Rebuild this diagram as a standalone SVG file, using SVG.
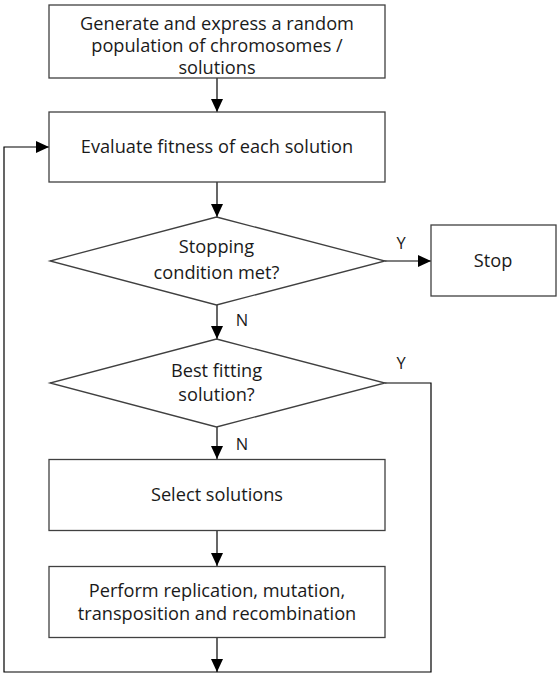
<svg xmlns="http://www.w3.org/2000/svg" width="557" height="675" viewBox="0 0 557 675">
<style>
.box{fill:#fff;stroke:#404040;stroke-width:1.3}
.con{fill:none;stroke:#000;stroke-width:1.2}
text{font-family:"Open Sans","DejaVu Sans",sans-serif;font-size:18.2px;fill:#1a1a1a;text-anchor:middle}
.lbl{font-size:16.5px}
</style>
<defs>
<marker id="ah" markerUnits="userSpaceOnUse" markerWidth="14" markerHeight="13" refX="13" refY="6" orient="auto">
<path d="M0,0 L13,6 L0,12 z" fill="#000"/>
</marker>
</defs>
<rect width="557" height="675" fill="#fff"/>
<g id="connectors">
<line class="con" x1="217" y1="78" x2="217" y2="112" marker-end="url(#ah)"/>
<line class="con" x1="217" y1="182" x2="217" y2="217" marker-end="url(#ah)"/>
<line class="con" x1="385" y1="261" x2="431" y2="261" marker-end="url(#ah)"/>
<line class="con" x1="217" y1="305" x2="217" y2="339" marker-end="url(#ah)"/>
<polyline class="con" points="385,383 431,383 431,672 4,672 4,147 49,147" marker-end="url(#ah)"/>
<line class="con" x1="217" y1="427" x2="217" y2="459" marker-end="url(#ah)"/>
<line class="con" x1="217" y1="531" x2="217" y2="566" marker-end="url(#ah)"/>
<line class="con" x1="217" y1="637" x2="217" y2="672" marker-end="url(#ah)"/>
<text class="lbl" x="401" y="248.5">Y</text>
<text class="lbl" x="401" y="369">Y</text>
<text class="lbl" x="242" y="326">N</text>
<text class="lbl" x="242" y="450">N</text>
</g>
<g id="generate">
<rect class="box" x="49" y="5" width="336" height="73"/>
<text x="217" y="29.5">Generate and express a random</text>
<text x="217" y="51.5">population of chromosomes /</text>
<text x="217" y="74">solutions</text>
</g>
<g id="evaluate">
<rect class="box" x="49" y="112" width="336" height="70"/>
<text x="217" y="153.3">Evaluate fitness of each solution</text>
</g>
<g id="stopping">
<polygon class="box" points="216.5,217 385,261 216.5,305 50,261"/>
<text x="216.5" y="253.3">Stopping</text>
<text x="216.5" y="279">condition met?</text>
</g>
<g id="stop">
<rect class="box" x="431" y="225" width="125" height="71"/>
<text x="493" y="266.7">Stop</text>
</g>
<g id="bestfit">
<polygon class="box" points="216.5,339 385,383 216.5,427 50,383"/>
<text x="216.5" y="377.3">Best fitting</text>
<text x="216.5" y="400.5">solution?</text>
</g>
<g id="select">
<rect class="box" x="49" y="459.5" width="336" height="71"/>
<text x="217" y="500.7">Select solutions</text>
</g>
<g id="perform">
<rect class="box" x="49" y="566.5" width="336" height="71"/>
<text x="217" y="596.5">Perform replication, mutation,</text>
<text x="217" y="620">transposition and recombination</text>
</g>
</svg>
